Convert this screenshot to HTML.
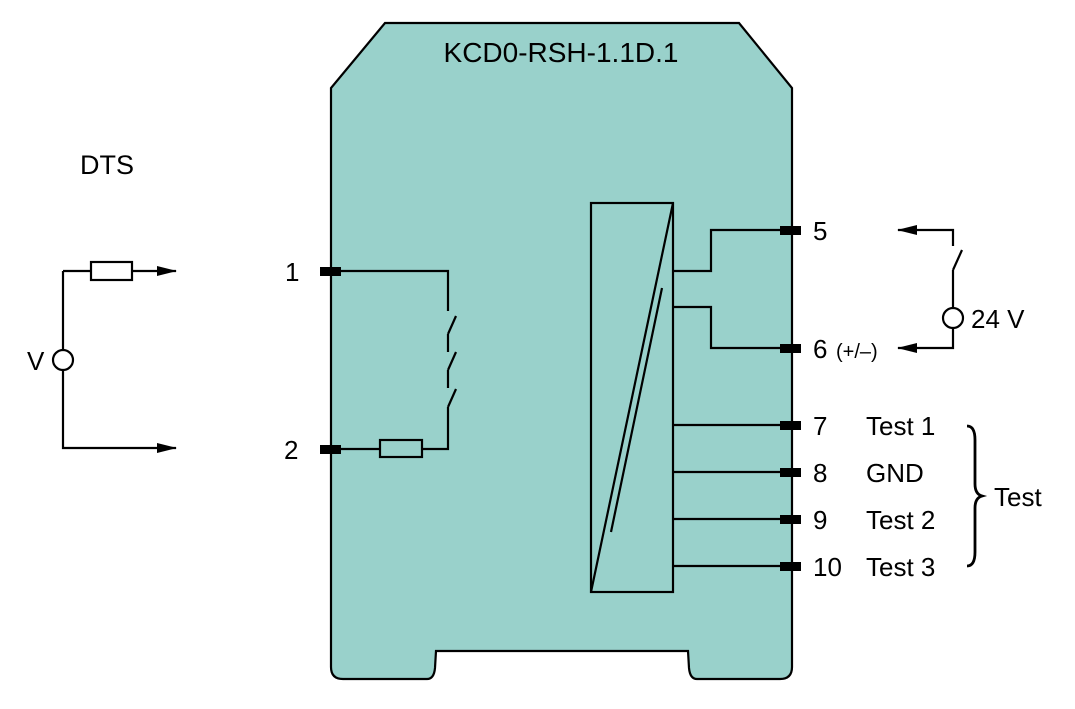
<!DOCTYPE html>
<html><head><meta charset="utf-8"><style>
html,body{margin:0;padding:0;background:#fff}
svg{display:block}
text{font-family:"Liberation Sans",Arial,sans-serif;fill:#000}
</style></head><body>
<svg width="1075" height="709" viewBox="0 0 1075 709" xmlns="http://www.w3.org/2000/svg">
<defs><marker id="a" markerWidth="20" markerHeight="12" refX="19" refY="6" orient="auto" markerUnits="userSpaceOnUse"><path d="M0,1 L20,6 L0,11 Z" fill="#000"/></marker></defs>
<path d="M385,23 L739,23 L792,88 L792,667 Q792,679 780,679 L697,679 Q690,679 689,668 L688,651 L436,651 L435,668 Q434,679 427,679 L343,679 Q331,679 331,667 L331,88 Z" fill="#99d1cb" stroke="#000" stroke-width="2.2"/>
<text x="561" y="62" font-size="28" text-anchor="middle">KCD0-RSH-1.1D.1</text>
<text x="80" y="174" font-size="27">DTS</text>
<g stroke="#000" stroke-width="2.2" fill="none">
<path d="M63,271 L63,448 L176,448" marker-end="url(#a)"/>
<path d="M63,271 L91,271"/>
<path d="M132,271 L176,271" marker-end="url(#a)"/>
<rect x="91" y="262" width="41" height="18" fill="#fff"/>
<circle cx="63" cy="360" r="10" fill="#fff"/>
<path d="M341,271 L448,271 L448,311"/>
<path d="M448,334 L456,316 M448,334 L448,352 M448,370 L456,352 M448,370 L448,388 M448,407 L456,389 M448,407 L448,449 L341,449"/>
<rect x="380" y="440" width="42" height="17" fill="#99d1cb"/>
<rect x="591" y="203" width="82" height="389"/>
<path d="M673,203 L591,592 M662,288 L611,532"/>
<path d="M673,271 L711,271 L711,230 L790,230"/>
<path d="M673,307 L711,307 L711,348 L790,348"/>
<path d="M673,425 L790,425 M673,472 L790,472 M673,519 L790,519 M673,566 L790,566"/>
<path d="M953,246 L953,230 L898,230" marker-end="url(#a)"/>
<path d="M953,270 L962,250 M953,270 L953,348 L898,348" marker-end="url(#a)"/>
<circle cx="953" cy="318" r="10" fill="#fff"/>
<path d="M967,426 Q975,426 975,440 L975,484 Q975,494 982,496 Q975,498 975,508 L975,552 Q975,566 967,566" stroke-width="2.8"/>
</g>
<g fill="#000">
<rect x="320" y="267" width="21" height="9"/>
<rect x="320" y="445" width="21" height="9"/>
<rect x="780" y="226" width="21" height="9"/>
<rect x="780" y="344" width="21" height="9"/>
<rect x="780" y="421" width="21" height="9"/>
<rect x="780" y="468" width="21" height="9"/>
<rect x="780" y="515" width="21" height="9"/>
<rect x="780" y="562" width="21" height="9"/>
</g>
<g font-size="26">
<text x="27" y="370">V</text>
<text x="285" y="281">1</text>
<text x="284" y="459">2</text>
<text x="813" y="240">5</text>
<text x="813" y="358">6</text>
<text x="836" y="358" font-size="20">(+/–)</text>
<text x="971" y="328">24 V</text>
<text x="813" y="435">7</text><text x="866" y="435">Test 1</text>
<text x="813" y="482">8</text><text x="866" y="482">GND</text>
<text x="813" y="529">9</text><text x="866" y="529">Test 2</text>
<text x="813" y="576">10</text><text x="866" y="576">Test 3</text>
<text x="994" y="506">Test</text>
</g>
</svg>
</body></html>
